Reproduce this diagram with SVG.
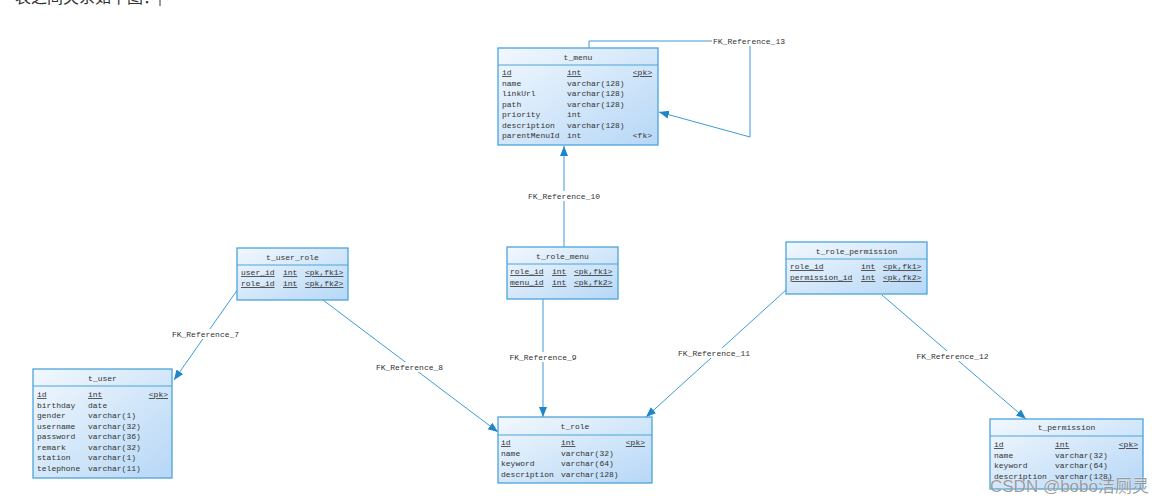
<svg xmlns="http://www.w3.org/2000/svg" width="1172" height="503" viewBox="0 0 1172 503">
<defs>
<linearGradient id="bg" x1="0" y1="0" x2="1" y2="1">
<stop offset="0" stop-color="#f2f8fe"/>
<stop offset="1" stop-color="#b6d7f6"/>
</linearGradient>
<marker id="arr" markerUnits="userSpaceOnUse" markerWidth="11" markerHeight="9" refX="10" refY="4.5" orient="auto">
<path d="M0,0.5 L10,4.5 L0,8.5 z" fill="#1f86c8"/>
</marker>
<style>
.box{fill:url(#bg);stroke:#4ba4dc;stroke-width:1.3}
.sep{stroke:#4ba4dc;stroke-width:1}
.t{font-family:"Liberation Mono",monospace;font-size:8px;fill:#333}
.c{text-anchor:middle}
.e{text-anchor:end}
.u{text-decoration:underline}
.ln{fill:none;stroke:#3d9bd6;stroke-width:1}
.lb{fill:#fff}
</style>
</defs>
<rect width="1172" height="503" fill="#fff"/>
<text x="15" y="3" style="font-family:'Noto Sans CJK SC',sans-serif;font-size:16px;fill:#333">表之间关系如下图：</text>
<line x1="160" y1="0" x2="160" y2="6" stroke="#333" stroke-width="1"/>

<g id="connectors">
<path class="ln" d="M589,48 V41 H750 V137 L659,112" marker-end="url(#arr)"/>
<path class="ln" d="M564,247 V146" marker-end="url(#arr)"/>
<path class="ln" d="M238,289 L174,380" marker-end="url(#arr)"/>
<path class="ln" d="M323,300 L498,432" marker-end="url(#arr)"/>
<path class="ln" d="M543,299 V417" marker-end="url(#arr)"/>
<path class="ln" d="M786,290 L646,417" marker-end="url(#arr)"/>
<path class="ln" d="M882,295 L1026,419" marker-end="url(#arr)"/>
<rect class="lb" x="712" y="36" width="75" height="10"/>
<text class="t" x="713" y="44">FK_Reference_13</text>
<rect class="lb" x="527" y="191" width="74" height="10"/>
<text class="t c" x="564" y="199">FK_Reference_10</text>
<rect class="lb" x="171" y="329" width="69" height="10"/>
<text class="t c" x="205.5" y="337">FK_Reference_7</text>
<rect class="lb" x="375" y="362" width="69" height="10"/>
<text class="t c" x="409.5" y="370">FK_Reference_8</text>
<rect class="lb" x="508" y="352" width="70" height="10"/>
<text class="t c" x="543" y="360">FK_Reference_9</text>
<rect class="lb" x="677" y="348" width="74" height="10"/>
<text class="t c" x="714" y="356">FK_Reference_11</text>
<rect class="lb" x="916" y="351" width="74" height="10"/>
<text class="t c" x="952.5" y="359">FK_Reference_12</text>
</g>

<g id="t_menu">
<rect class="box" x="498" y="48" width="160" height="97"/>
<line class="sep" x1="498" y1="65" x2="658" y2="65"/>
<text class="t c" x="578" y="60">t_menu</text>
<text class="t u" x="502" y="75">id</text><text class="t u" x="567" y="75">int</text><text class="t u e" x="652" y="75">&lt;pk&gt;</text>
<text class="t" x="502" y="85.5">name</text><text class="t" x="567" y="85.5">varchar(128)</text>
<text class="t" x="502" y="96">linkUrl</text><text class="t" x="567" y="96">varchar(128)</text>
<text class="t" x="502" y="106.5">path</text><text class="t" x="567" y="106.5">varchar(128)</text>
<text class="t" x="502" y="117">priority</text><text class="t" x="567" y="117">int</text>
<text class="t" x="502" y="127.5">description</text><text class="t" x="567" y="127.5">varchar(128)</text>
<text class="t" x="502" y="138">parentMenuId</text><text class="t" x="567" y="138">int</text><text class="t e" x="652" y="138">&lt;fk&gt;</text>
</g>

<g id="t_user_role">
<rect class="box" x="237" y="248" width="111" height="52"/>
<line class="sep" x1="237" y1="265" x2="348" y2="265"/>
<text class="t c" x="292.5" y="260">t_user_role</text>
<text class="t u" x="241" y="275">user_id</text><text class="t u" x="283" y="275">int</text><text class="t u" x="305" y="275">&lt;pk,fk1&gt;</text>
<text class="t u" x="241" y="286">role_id</text><text class="t u" x="283" y="286">int</text><text class="t u" x="305" y="286">&lt;pk,fk2&gt;</text>
</g>

<g id="t_role_menu">
<rect class="box" x="507" y="247" width="111" height="52"/>
<line class="sep" x1="507" y1="264" x2="618" y2="264"/>
<text class="t c" x="562.5" y="259">t_role_menu</text>
<text class="t u" x="510" y="274">role_id</text><text class="t u" x="552" y="274">int</text><text class="t u" x="574" y="274">&lt;pk,fk1&gt;</text>
<text class="t u" x="510" y="285">menu_id</text><text class="t u" x="552" y="285">int</text><text class="t u" x="574" y="285">&lt;pk,fk2&gt;</text>
</g>

<g id="t_role_permission">
<rect class="box" x="786" y="242" width="141" height="52"/>
<line class="sep" x1="786" y1="259" x2="927" y2="259"/>
<text class="t c" x="856.5" y="254">t_role_permission</text>
<text class="t u" x="790" y="269">role_id</text><text class="t u" x="861" y="269">int</text><text class="t u" x="883" y="269">&lt;pk,fk1&gt;</text>
<text class="t u" x="790" y="280">permission_id</text><text class="t u" x="861" y="280">int</text><text class="t u" x="883" y="280">&lt;pk,fk2&gt;</text>
</g>

<g id="t_user">
<rect class="box" x="33" y="369" width="139" height="109"/>
<line class="sep" x1="33" y1="386" x2="172" y2="386"/>
<text class="t c" x="102.5" y="381">t_user</text>
<text class="t u" x="37" y="397">id</text><text class="t u" x="88" y="397">int</text><text class="t u e" x="168" y="397">&lt;pk&gt;</text>
<text class="t" x="37" y="407.5">birthday</text><text class="t" x="88" y="407.5">date</text>
<text class="t" x="37" y="418">gender</text><text class="t" x="88" y="418">varchar(1)</text>
<text class="t" x="37" y="428.5">username</text><text class="t" x="88" y="428.5">varchar(32)</text>
<text class="t" x="37" y="439">password</text><text class="t" x="88" y="439">varchar(36)</text>
<text class="t" x="37" y="449.5">remark</text><text class="t" x="88" y="449.5">varchar(32)</text>
<text class="t" x="37" y="460">station</text><text class="t" x="88" y="460">varchar(1)</text>
<text class="t" x="37" y="470.5">telephone</text><text class="t" x="88" y="470.5">varchar(11)</text>
</g>

<g id="t_role">
<rect class="box" x="498" y="417" width="154" height="66"/>
<line class="sep" x1="498" y1="435" x2="652" y2="435"/>
<text class="t c" x="575" y="429">t_role</text>
<text class="t u" x="501" y="445">id</text><text class="t u" x="561" y="445">int</text><text class="t u e" x="645" y="445">&lt;pk&gt;</text>
<text class="t" x="501" y="455.5">name</text><text class="t" x="561" y="455.5">varchar(32)</text>
<text class="t" x="501" y="466">keyword</text><text class="t" x="561" y="466">varchar(64)</text>
<text class="t" x="501" y="476.5">description</text><text class="t" x="561" y="476.5">varchar(128)</text>
</g>

<g id="t_permission">
<rect class="box" x="990" y="419" width="153" height="70"/>
<line class="sep" x1="990" y1="436" x2="1143" y2="436"/>
<text class="t c" x="1066.5" y="430">t_permission</text>
<text class="t u" x="994" y="447">id</text><text class="t u" x="1055" y="447">int</text><text class="t u e" x="1138" y="447">&lt;pk&gt;</text>
<text class="t" x="994" y="457.5">name</text><text class="t" x="1055" y="457.5">varchar(32)</text>
<text class="t" x="994" y="468">keyword</text><text class="t" x="1055" y="468">varchar(64)</text>
<text class="t" x="994" y="478.5">description</text><text class="t" x="1055" y="478.5">varchar(128)</text>
</g>

<text x="990" y="492" style="font-family:'Liberation Sans','Noto Sans CJK SC',sans-serif;font-size:17px;fill:#8c8c8c;fill-opacity:0.85;stroke:#fff;stroke-width:0.6;stroke-opacity:0.6;paint-order:stroke">CSDN @bobo洁厕灵</text>
</svg>
